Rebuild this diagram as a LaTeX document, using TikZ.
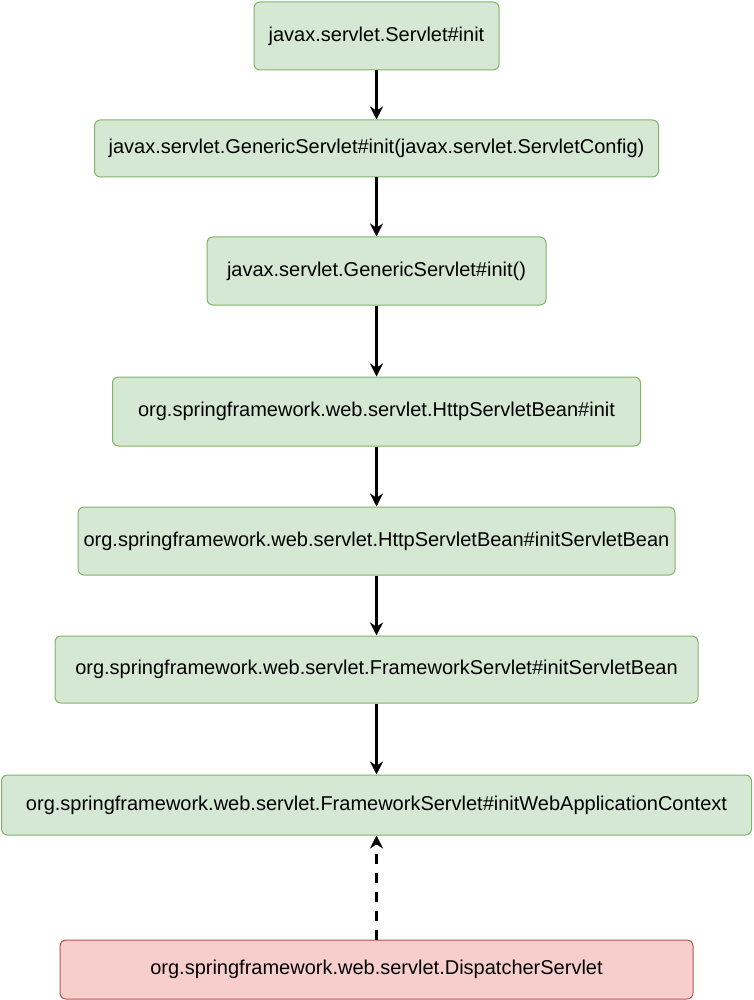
\documentclass[tikz,border=0pt]{standalone}
\usepackage{fontspec}
\setmainfont{Liberation Sans}
\usetikzlibrary{arrows.meta}
\definecolor{gfill}{HTML}{D5E8D4}
\definecolor{gline}{HTML}{82B366}
\definecolor{rfill}{HTML}{F8CECC}
\definecolor{rline}{HTML}{B85450}
\tikzset{
  gbox/.style={draw=gline, fill=gfill, line width=1pt, rounded corners=6pt, inner sep=0pt, font=\fontsize{20}{24}\selectfont},
  rbox/.style={draw=rline, fill=rfill, line width=1pt, rounded corners=6pt, inner sep=0pt, font=\fontsize{20}{24}\selectfont},
  flow/.style={line width=3pt, -{Stealth[length=13pt,width=13pt]}},
  dflow/.style={flow, dash pattern=on 10pt off 9pt}
}
\begin{document}
\begin{tikzpicture}[x=1pt,y=-1pt]
\useasboundingbox (0,0) rectangle (753,1000);
\node[gbox, minimum width=245pt, minimum height=68pt] (n1) at (376.5,36) {javax.servlet.Servlet\#init};
\node[gbox, minimum width=564pt, minimum height=57pt] (n2) at (376.5,148.5) {javax.servlet.GenericServlet\#init(javax.servlet.ServletConfig)};
\node[gbox, minimum width=339pt, minimum height=68pt] (n3) at (376.5,271) {javax.servlet.GenericServlet\#init()};
\node[gbox, minimum width=528pt, minimum height=69pt] (n4) at (376.5,411.5) {org.springframework.web.servlet.HttpServletBean\#init};
\node[gbox, minimum width=597pt, minimum height=68pt] (n5) at (376.5,541) {org.springframework.web.servlet.HttpServletBean\#initServletBean};
\node[gbox, minimum width=643pt, minimum height=67pt] (n6) at (376.5,669.5) {org.springframework.web.servlet.FrameworkServlet\#initServletBean};
\node[gbox, minimum width=750pt, minimum height=60pt] (n7) at (376.5,805) {org.springframework.web.servlet.FrameworkServlet\#initWebApplicationContext};
\node[rbox, minimum width=633pt, minimum height=59pt] (n8) at (376.5,969.5) {org.springframework.web.servlet.DispatcherServlet};
\draw[flow] (n1.south) -- (n2.north);
\draw[flow] (n2.south) -- (n3.north);
\draw[flow] (n3.south) -- (n4.north);
\draw[flow] (n4.south) -- (n5.north);
\draw[flow] (n5.south) -- (n6.north);
\draw[flow] (n6.south) -- (n7.north);
\draw[dflow] (n8.north) -- (n7.south);
\end{tikzpicture}
\end{document}
